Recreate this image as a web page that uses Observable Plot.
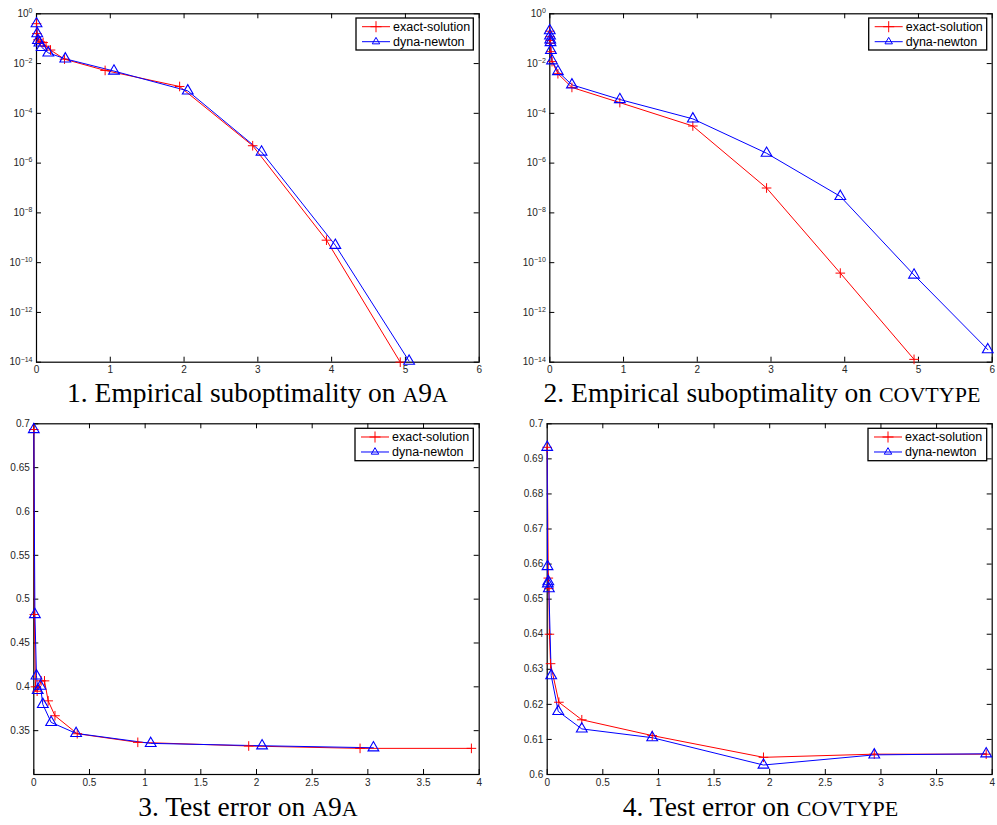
<!DOCTYPE html>
<html><head><meta charset="utf-8">
<script src="https://cdn.jsdelivr.net/npm/d3@7"></script>
<script src="https://cdn.jsdelivr.net/npm/@observablehq/plot@0.6"></script>
<style>
html,body{margin:0;padding:0;background:#fff}
body{width:997px;height:825px;position:relative;overflow:hidden;font-family:"Liberation Sans",Arial,sans-serif}
.panel{position:absolute}
.caption{position:absolute;font-family:"Liberation Serif","Times New Roman",serif;font-size:27.5px;line-height:26.5px;white-space:nowrap;transform:translateX(-50%);color:#000}
.sc{font-size:0.8em}
#overlay{position:absolute;left:0;top:0;pointer-events:none}
</style></head><body>
<script>
// ---------- data ----------
const seriesNames = ["exact-solution", "dyna-newton"];
const captions = ["1. Empirical suboptimality on ", "2. Empirical suboptimality on ", "3. Test error on ", "4. Test error on "];
const datasetNames = ["a9a", "covtype", "a9a", "covtype"];

// Panel 1: empirical suboptimality, a9a
const p1ExactX = [0, 0.005, 0.02, 0.05, 0.09, 0.13, 0.19, 0.38, 0.93, 1.94, 2.93, 3.93, 4.93];
const p1ExactY = [0.4, 0.16, 0.09, 0.075, 0.07, 0.05, 0.035, 0.015, 0.0053, 0.0012, 5e-6, 8e-10, 1e-14];
const p1DynaX = [0, 0.01, 0.02, 0.04, 0.07, 0.16, 0.39, 1.05, 2.05, 3.05, 4.05, 5.05];
const p1DynaY = [0.4, 0.16, 0.085, 0.068, 0.045, 0.027, 0.0155, 0.005, 8e-4, 2.8e-6, 5e-10, 1.1e-14];

// Panel 2: empirical suboptimality, covtype
const p2ExactX = [0, 0.003, 0.006, 0.01, 0.015, 0.03, 0.11, 0.30, 0.95, 1.94, 2.94, 3.94, 4.94];
const p2ExactY = [0.2, 0.12, 0.085, 0.065, 0.03, 0.012, 0.0039, 0.0011, 2.7e-4, 3.1e-5, 1e-7, 3.8e-11, 1.3e-14];
const p2DynaX = [0, 0.003, 0.006, 0.01, 0.015, 0.03, 0.11, 0.30, 0.95, 1.94, 2.94, 3.94, 4.94, 5.94];
const p2DynaY = [0.21, 0.13, 0.09, 0.07, 0.034, 0.013, 0.0048, 0.0014, 3.6e-4, 6e-5, 2.5e-6, 4.6e-8, 3.2e-11, 3.2e-14];

// Panel 3: test error, a9a
const p3ExactX = [0, 0.005, 0.015, 0.03, 0.066, 0.096, 0.129, 0.19, 0.39, 0.934, 1.93, 2.93, 3.93];
const p3ExactY = [0.6935, 0.4825, 0.4, 0.395, 0.4068, 0.4068, 0.384, 0.367, 0.3465, 0.3367, 0.3325, 0.3298, 0.3298];
const p3DynaX = [0, 0.01, 0.024, 0.035, 0.06, 0.081, 0.156, 0.38, 1.05, 2.05, 3.05];
const p3DynaY = [0.6935, 0.4825, 0.4125, 0.396, 0.4008, 0.38, 0.3594, 0.3469, 0.3355, 0.3328, 0.3305];

// Panel 4: test error, covtype
const p4ExactX = [0, 0.01, 0.015, 0.02, 0.03, 0.105, 0.311, 0.944, 1.944, 2.94, 3.946];
const p4ExactY = [0.6933, 0.656, 0.653, 0.64, 0.6316, 0.6206, 0.6156, 0.6111, 0.6049, 0.6058, 0.6058];
const p4DynaX = [0, 0.003, 0.006, 0.01, 0.015, 0.036, 0.099, 0.311, 0.944, 1.944, 2.94, 3.946];
const p4DynaY = [0.6933, 0.6593, 0.6544, 0.655, 0.653, 0.6282, 0.618, 0.613, 0.6105, 0.6027, 0.6056, 0.6059];

// tick values
const subXTicks = [0, 1, 2, 3, 4, 5, 6];
const subYTicks = [1, 1e-2, 1e-4, 1e-6, 1e-8, 1e-10, 1e-12, 1e-14];
const errXTicks = [0, 0.5, 1, 1.5, 2, 2.5, 3, 3.5, 4];
const p3YTicks = [0.35, 0.4, 0.45, 0.5, 0.55, 0.6, 0.65, 0.7];
const p4YTicks = [0.6, 0.61, 0.62, 0.63, 0.64, 0.65, 0.66, 0.67, 0.68, 0.69, 0.7];

// ---------- drawing ----------
const RED = "#ff0000", BLUE = "#0000ff";
const zip = (xs, ys) => xs.map((x, i) => ({x, y: ys[i]}));

function panel(o) {
  const fw = o.width - o.mL - o.mR, fh = o.height - o.mT - o.mB;
  const exact = zip(o.exX, o.exY), dyna = zip(o.dyX, o.dyY);
  const chart = Plot.plot({
    width: o.width, height: o.height,
    marginLeft: o.mL, marginRight: o.mR, marginTop: o.mT, marginBottom: o.mB,
    style: {fontFamily: "Liberation Sans, Arial, sans-serif", fontSize: "10px", color: "#262626", background: "transparent", overflow: "visible"},
    x: {domain: o.xDomain},
    y: {type: o.yType, domain: o.yDomain},
    marks: [
      Plot.axisX({ticks: o.xTicks, tickSize: 0, tickPadding: 4, label: null, tickFormat: d => String(d)}),
      Plot.axisY({ticks: o.yTicks, tickSize: 0, tickPadding: 4, label: null,
        tickFormat: o.yType === "log" ? (d => String(Math.round(Math.log10(d)))) : (d => String(d))}),
      Plot.tickX(o.xTicks, {x: d => d, insetTop: fh - 5, stroke: "#000", strokeWidth: 1}),
      Plot.tickX(o.xTicks, {x: d => d, insetBottom: fh - 5, stroke: "#000", strokeWidth: 1}),
      Plot.tickY(o.yTicks, {y: d => d, insetRight: fw - 5, stroke: "#000", strokeWidth: 1}),
      Plot.tickY(o.yTicks, {y: d => d, insetLeft: fw - 5, stroke: "#000", strokeWidth: 1}),
      Plot.frame({stroke: "#000", strokeWidth: 1.2}),
      Plot.line(exact, {x: "x", y: "y", stroke: RED, strokeWidth: 1}),
      Plot.line(dyna, {x: "x", y: "y", stroke: BLUE, strokeWidth: 1}),
      Plot.dot(exact, {x: "x", y: "y", symbol: "plus", stroke: RED, strokeWidth: 1, r: 3.2}),
      Plot.dot(dyna, {x: "x", y: "y", symbol: "triangle", fill: "none", stroke: BLUE, strokeWidth: 1.1, r: 4})
    ]
  });
  if (o.yType === "log") {
    d3.select(chart).selectAll('g[aria-label="y-axis tick label"] text').each(function () {
      const e = this.textContent.trim().replace("-", "\u2212");
      const t = d3.select(this);
      t.text("10");
      t.append("tspan").attr("dy", "-0.55em").attr("font-size", "7px").text(e);
    });
  }
  const div = document.createElement("div");
  div.className = "panel";
  div.style.left = o.left + "px";
  div.style.top = o.top + "px";
  div.appendChild(chart);
  document.body.appendChild(div);
}

panel({left: 0, top: 0, width: 497, height: 380, mL: 36, mR: 18.3, mT: 13.3, mB: 18.3,
  xDomain: [0, 6], xTicks: subXTicks, yType: "log", yDomain: [1e-14, 1], yTicks: subYTicks,
  exX: p1ExactX, exY: p1ExactY, dyX: p1DynaX, dyY: p1DynaY});
panel({left: 500, top: 0, width: 497, height: 380, mL: 49.3, mR: 5.3, mT: 13.3, mB: 18.3,
  xDomain: [0, 6], xTicks: subXTicks, yType: "log", yDomain: [1e-14, 1], yTicks: subYTicks,
  exX: p2ExactX, exY: p2ExactY, dyX: p2DynaX, dyY: p2DynaY});
panel({left: 0, top: 410, width: 497, height: 380, mL: 33.3, mR: 18.3, mT: 13.3, mB: 16,
  xDomain: [0, 4], xTicks: errXTicks, yType: "linear", yDomain: [0.3, 0.7], yTicks: p3YTicks,
  exX: p3ExactX, exY: p3ExactY, dyX: p3DynaX, dyY: p3DynaY});
panel({left: 500, top: 410, width: 497, height: 380, mL: 46.7, mR: 5.3, mT: 13.3, mB: 16,
  xDomain: [0, 4], xTicks: errXTicks, yType: "linear", yDomain: [0.6, 0.7], yTicks: p4YTicks,
  exX: p4ExactX, exY: p4ExactY, dyX: p4DynaX, dyY: p4DynaY});

// legends (overlay)
const overlay = d3.select(document.body).append("svg").attr("id", "overlay").attr("width", 997).attr("height", 825);
const legendBoxes = [[356, 18, 117.3, 32], [868.7, 18, 118, 32], [355, 428.3, 118.3, 32.4], [868, 428.3, 118.7, 32.4]];
legendBoxes.forEach(([lx, ly, lw, lh]) => {
  const g = overlay.append("g").attr("transform", `translate(${lx},${ly})`);
  g.append("rect").attr("width", lw).attr("height", lh).attr("fill", "#fff").attr("stroke", "#000").attr("stroke-width", 1.3);
  [[RED, d3.symbolPlus, 8.7], [BLUE, d3.symbolTriangle2, 23.7]].forEach(([c, sym, yy], i) => {
    g.append("line").attr("x1", 6).attr("x2", 34).attr("y1", yy).attr("y2", yy).attr("stroke", c).attr("stroke-width", 1);
    g.append("path").attr("d", d3.symbol(sym, i === 0 ? 42 : 40)()).attr("transform", `translate(20,${yy})`)
      .attr("fill", "none").attr("stroke", c).attr("stroke-width", 1);
    g.append("text").attr("x", 37).attr("y", yy).attr("dy", "0.35em").attr("font-size", "12.5px")
      .attr("font-family", "Liberation Sans, Arial, sans-serif").attr("fill", "#000").text(seriesNames[i]);
  });
});

// captions (dataset names in small capitals: letters as reduced capitals, digits full size)
const capPos = [[257.5, 380], [762, 380], [248, 794], [760.5, 794]];
captions.forEach((c, i) => {
  const d = document.createElement("div");
  d.className = "caption";
  d.style.left = capPos[i][0] + "px";
  d.style.top = capPos[i][1] + "px";
  d.appendChild(document.createTextNode(c));
  for (const ch of datasetNames[i]) {
    if (/[a-z]/.test(ch)) {
      const s = document.createElement("span");
      s.className = "sc";
      s.textContent = ch.toUpperCase();
      d.appendChild(s);
    } else {
      d.appendChild(document.createTextNode(ch));
    }
  }
  document.body.appendChild(d);
});
</script>
</body></html>
